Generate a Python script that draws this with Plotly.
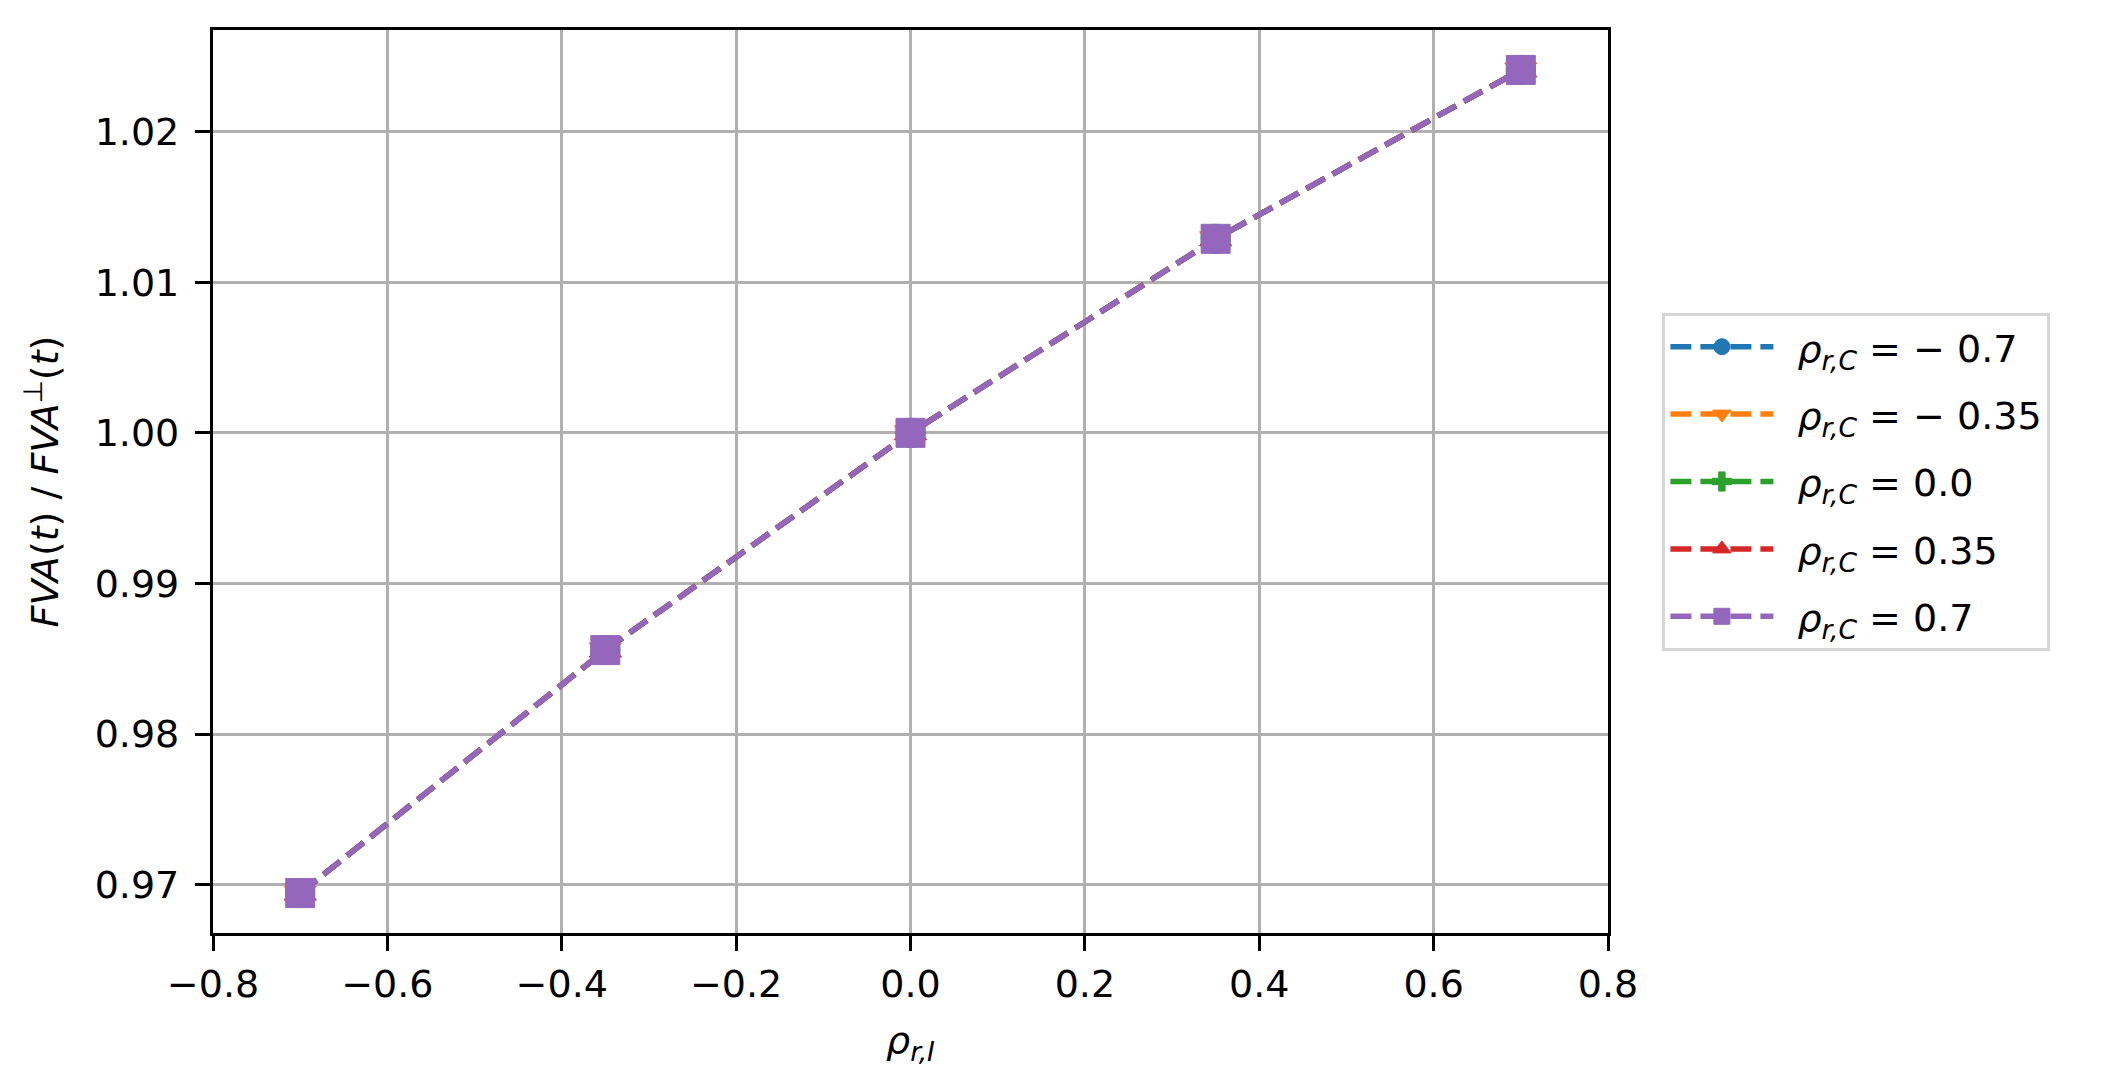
import plotly.graph_objects as go

# ---------------- data ----------------
rho_ri = [-0.7, -0.35, 0.0, 0.35, 0.7]

fva_ratio_m070 = [0.96945, 0.98558, 1.00000, 1.01288, 1.02409]
fva_ratio_m035 = [0.96945, 0.98558, 1.00000, 1.01288, 1.02409]
fva_ratio_000 = [0.96945, 0.98558, 1.00000, 1.01288, 1.02409]
fva_ratio_035 = [0.96945, 0.98558, 1.00000, 1.01288, 1.02409]
fva_ratio_070 = [0.96945, 0.98558, 1.00000, 1.01288, 1.02409]

rho_rc_labels = ["\u2212 0.7", "\u2212 0.35", "0.0", "0.35", "0.7"]
x_ticks = [-0.8, -0.6, -0.4, -0.2, 0.0, 0.2, 0.4, 0.6, 0.8]
x_tick_text = ["\u22120.8", "\u22120.6", "\u22120.4", "\u22120.2", "0.0", "0.2", "0.4", "0.6", "0.8"]
y_ticks = [0.97, 0.98, 0.99, 1.00, 1.01, 1.02]

# ---------------- style ----------------
series = [
    (fva_ratio_m070, '#1f77b4', 'circle', 29),
    (fva_ratio_m035, '#ff7f0e', 'triangle-down', 28),
    (fva_ratio_000, '#2ca02c', 'cross', 24),
    (fva_ratio_035, '#d62728', 'triangle-up', 28),
    (fva_ratio_070, '#9467bd', 'square', 29),
]

FONT = 'DejaVu Sans'

fig = go.Figure()
for i, ((vals, color, symbol, msize), lab) in enumerate(zip(series, rho_rc_labels)):
    fig.add_trace(go.Scatter(
        x=rho_ri, y=vals,
        mode='lines+markers',
        name='\u2002<i>\u03c1</i><sub><i>r,C</i></sub> = ' + lab,
        legendgroup='g%d' % i,
        line=dict(color=color, width=5.5, dash='21px,9px'),
        marker=dict(symbol=symbol, size=msize, color=color,
                    line=dict(color=color, width=1)),
    ))

axis_common = dict(
    showgrid=True,
    gridcolor='#b0b0b0',
    gridwidth=2.8,
    zeroline=False,
    showline=True,
    linecolor='black',
    linewidth=3.3,
    mirror=True,
    ticks='outside',
    ticklen=15,
    tickwidth=3.3,
    tickcolor='black',
    tickfont=dict(family=FONT, size=38, color='black'),
)

# page body adds an 8px offset, so the figure is 8px smaller on each side
fig.update_layout(
    width=2103,
    height=1083,
    paper_bgcolor='white',
    plot_bgcolor='white',
    margin=dict(l=205, r=503, t=22, b=158),
    font=dict(family=FONT, size=38, color='black'),
    showlegend=True,
    legend=dict(
        x=1.039, xanchor='left',
        y=0.5, yanchor='middle',
        bgcolor='white',
        bordercolor='#d6d6d6',
        borderwidth=3,
        font=dict(family=FONT, size=38, color='black'),
        traceorder='grouped',
        tracegroupgap=15,
        itemwidth=103,
    ),
    xaxis=dict(
        axis_common,
        range=[-0.8, 0.8],
        tickvals=x_ticks,
        ticktext=x_tick_text,
        title=dict(text='<i>\u03c1</i><sub><i>r,I</i></sub>',
                   font=dict(family=FONT, size=38), standoff=22),
    ),
    yaxis=dict(
        axis_common,
        range=[0.96680, 1.02674],
        tickvals=y_ticks,
        tickformat='.2f',
        ticklabelstandoff=8,
        title=dict(text='<i>FVA</i>(<i>t</i>) / <i>FVA</i><sup>\u22a5</sup>(<i>t</i>)',
                   font=dict(family=FONT, size=38), standoff=25),
    ),
)

fig.write_html("out.html")
